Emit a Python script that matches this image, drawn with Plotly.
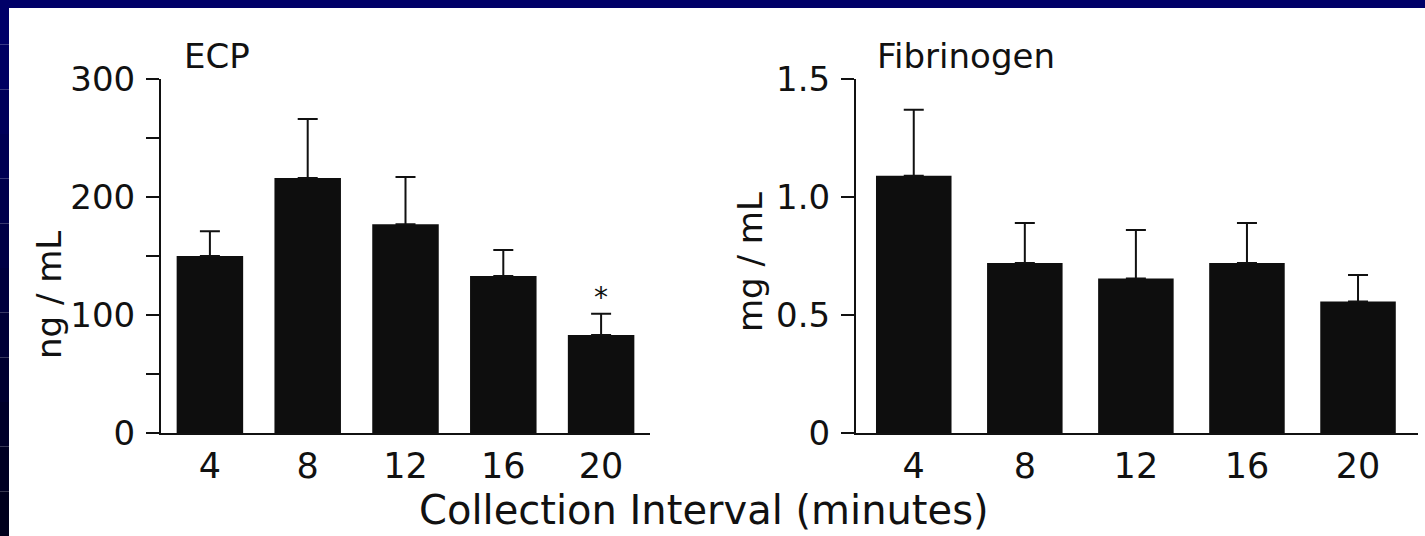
import plotly.graph_objects as go

intervals = ["4", "8", "12", "16", "20"]
ecp_mean = [150, 216, 177, 133, 83]
ecp_err = [21, 50, 40, 22, 18]
fib_mean = [1.09, 0.72, 0.655, 0.72, 0.557]
fib_err = [0.28, 0.17, 0.205, 0.17, 0.113]
significant = ["20"]

ecp_tickvals = [0, 50, 100, 150, 200, 250, 300]
ecp_ticktext = ["0", "", "100", "", "200", "", "300"]
fib_tickvals = [0, 0.5, 1.0, 1.5]
fib_ticktext = ["0", "0.5", "1.0", "1.5"]

W, H = 1425, 536
FONT = "DejaVu Sans"
INK = "#111111"

fig = go.Figure()
for mean, err, xa, ya in [(ecp_mean, ecp_err, "x", "y"), (fib_mean, fib_err, "x2", "y2")]:
    fig.add_trace(go.Bar(
        x=intervals, y=mean, xaxis=xa, yaxis=ya, width=0.68,
        marker=dict(color="#0e0e0e", line=dict(width=0)),
        error_y=dict(type="data", symmetric=False, array=err, arrayminus=[0] * len(err),
                     color=INK, thickness=2, width=10),
        showlegend=False,
    ))

# significance marker above the error bar
sig_y = [ecp_mean[intervals.index(c)] + ecp_err[intervals.index(c)] for c in significant]
fig.add_trace(go.Scatter(x=significant, y=sig_y, mode="text", text=["*"] * len(significant),
                         textposition="top center", xaxis="x", yaxis="y",
                         textfont=dict(size=28, family=FONT, color=INK), showlegend=False,
                         cliponaxis=False))

ydom = [1 - 433 / H, 1 - 79 / H]
axis_common = dict(showline=True, linecolor=INK, linewidth=2, showgrid=False, zeroline=False,
                   automargin=False)
fig.update_layout(
    template="none",
    width=W, height=H, autosize=False,
    margin=dict(l=0, r=0, t=0, b=0, pad=0),
    paper_bgcolor="white", plot_bgcolor="white",
    showlegend=False,
    font=dict(family=FONT, color=INK),
    xaxis=dict(domain=[161 / W, 650 / W], type="category", range=[-0.5, 4.5], ticks="",
               tickfont=dict(size=35, family=FONT, color=INK), ticklabelstandoff=1, **axis_common),
    yaxis=dict(domain=ydom, range=[0, 300], tickvals=ecp_tickvals, ticktext=ecp_ticktext,
               ticks="outside", ticklen=13, tickwidth=2, tickcolor=INK, ticklabelstandoff=4,
               tickfont=dict(size=34, family=FONT, color=INK), **axis_common),
    xaxis2=dict(domain=[856 / W, 1418 / W], type="category", range=[-0.52, 4.54], ticks="",
                anchor="y2", tickfont=dict(size=35, family=FONT, color=INK), ticklabelstandoff=1,
                **axis_common),
    yaxis2=dict(domain=ydom, range=[0, 1.5], anchor="x2", tickvals=fib_tickvals, ticktext=fib_ticktext,
                ticks="outside", ticklen=13, tickwidth=2, tickcolor=INK, ticklabelstandoff=4,
                tickfont=dict(size=34, family=FONT, color=INK), **axis_common),
)

# Navy frame (left and top strips)
navy_top = (0, 0, 104)
navy_bot = (0, 0, 28)
n = 12
for i in range(n):
    t = i / (n - 1)
    c = tuple(int(navy_top[k] + (navy_bot[k] - navy_top[k]) * t) for k in range(3))
    fig.add_shape(type="rect", xref="paper", yref="paper", x0=0, x1=9 / W,
                  y0=1 - (i + 1) / n, y1=1 - i / n, line=dict(width=0),
                  fillcolor=f"rgb{c}")
fig.add_shape(type="rect", xref="paper", yref="paper", x0=0, x1=1, y0=1 - 8 / H, y1=1,
              line=dict(width=0), fillcolor="rgb(0,0,104)")

ann = [
    dict(text="ECP", x=182 / W, y=1 - 56 / H, xanchor="left", yanchor="middle", size=34),
    dict(text="Fibrinogen", x=875 / W, y=1 - 56 / H, xanchor="left", yanchor="middle", size=34),
    dict(text="Collection Interval (minutes)", x=704 / W, y=1 / H, xanchor="center",
         yanchor="bottom", size=40),
]
for a in ann:
    fig.add_annotation(text=a["text"], xref="paper", yref="paper", x=a["x"], y=a["y"],
                       xanchor=a["xanchor"], yanchor=a["yanchor"], showarrow=False,
                       font=dict(size=a["size"], family=FONT, color=INK))

fig.add_annotation(text="ng / mL", xref="paper", yref="paper", x=49 / W, y=1 - 295 / H,
                   textangle=-90, showarrow=False, xanchor="center", yanchor="middle",
                   font=dict(size=34, family=FONT, color=INK))
fig.add_annotation(text="mg / mL", xref="paper", yref="paper", x=750 / W, y=1 - 262 / H,
                   textangle=-90, showarrow=False, xanchor="center", yanchor="middle",
                   font=dict(size=34, family=FONT, color=INK))

post = "document.body.style.margin='0';document.body.style.padding='0';document.body.style.overflow='hidden';"
fig.write_html("out.html", post_script=post, config={"displayModeBar": False})
